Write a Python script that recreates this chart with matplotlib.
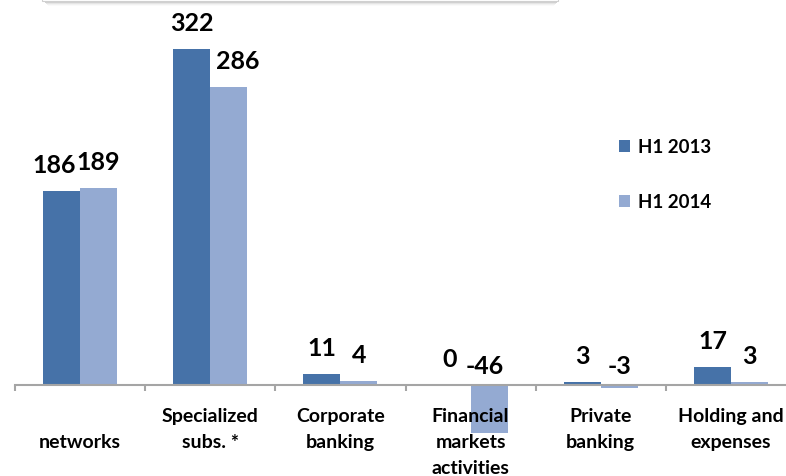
import numpy as np
import matplotlib
matplotlib.use("Agg")
import matplotlib.pyplot as plt
from matplotlib.patches import Rectangle
from matplotlib.transforms import Affine2D, blended_transform_factory

categories = ["\nnetworks", "Specialized\nsubs. *", "Corporate\nbanking",
              "Financial\nmarkets\nactivities", "Private\nbanking", "Holding and\nexpenses"]
h1_2013 = [186, 322, 11, 0, 3, 17]
h1_2014 = [189, 286, 4, -46, -3, 3]
series_names = ["H1 2013", "H1 2014"]

dark = "#4672a8"
light = "#94aad2"
axis_grey = "#a5a5a5"

plt.rcParams["font.family"] = ["Lato", "DejaVu Sans"]
plt.rcParams["font.weight"] = "bold"

W, H = 786, 476
fig = plt.figure(figsize=(W / 100, H / 100), dpi=100)
# pixel coordinates measured from the top-left corner
px = Affine2D().scale(1 / W, -1 / H).translate(0, 1) + fig.transFigure

ax = fig.add_axes([14.9 / W, 1 - 440 / H, 781.2 / W, 440 / H])
ax.set_xlim(-0.5, 5.5)
ax.set_ylim(-52.7, 369.1)

x = np.arange(len(categories))
w = 0.284
ax.bar(x - w / 2, h1_2013, w, color=dark, label=series_names[0], zorder=2)
ax.bar(x + w / 2, h1_2014, w, color=light, label=series_names[1], zorder=2)

for s in ["left", "right", "top"]:
    ax.spines[s].set_visible(False)
ax.spines["bottom"].set_position(("data", 0))
ax.spines["bottom"].set_color(axis_grey)
ax.spines["bottom"].set_linewidth(1.5)
ax.set_yticks([])
ax.set_xticks(np.arange(-0.5, 6, 1))
ax.set_xticklabels([])
ax.tick_params(axis="x", direction="out", length=4.5, width=1.5, color=axis_grey)

# value labels, nudged sideways where neighbours would collide
nudge = [[-7, 0], [0, 9], [0, 0], [-2, -4], [0, 0], [0, 0]]
for i in range(len(categories)):
    for j, (vals, dx) in enumerate(((h1_2013, -w / 2), (h1_2014, w / 2))):
        v = vals[i]
        lift = 18 if v >= 0 else 11
        ax.annotate(str(v), (x[i] + dx, max(v, 0)),
                    xytext=(nudge[i][j] * 0.72, lift * 0.72), textcoords="offset points",
                    ha="center", va="baseline", fontsize=18, fontweight="bold")

# category names under the axis
tr = blended_transform_factory(ax.transData, fig.transFigure)
for i, label in enumerate(categories):
    for k, line in enumerate(label.split("\n")):
        ax.text(x[i], 1 - (422 + 26 * k) / H, line, transform=tr, ha="center",
                va="baseline", fontsize=14, fontweight="bold", clip_on=False)

fig.legend(loc="upper left", bbox_to_anchor=(619 / W, 1 - 139 / H), frameon=False,
           fontsize=13.5, handlelength=0.6, handleheight=0.6, handletextpad=0.4,
           labelspacing=2.0, borderpad=0, borderaxespad=0)

# lower edge of a shadowed text box at the top of the slide
for i, a in enumerate([0.3, 0.18, 0.1, 0.05, 0.02]):
    fig.add_artist(Rectangle((44 + i, 1 + i), 514 - 2 * i, 1, transform=px,
                             facecolor="black", edgecolor="none", alpha=a))
fig.add_artist(Rectangle((42, -10), 516, 11, transform=px,
                         facecolor="white", edgecolor="#d0d0d0", linewidth=0.8))

fig.savefig("out.png", dpi=100)
